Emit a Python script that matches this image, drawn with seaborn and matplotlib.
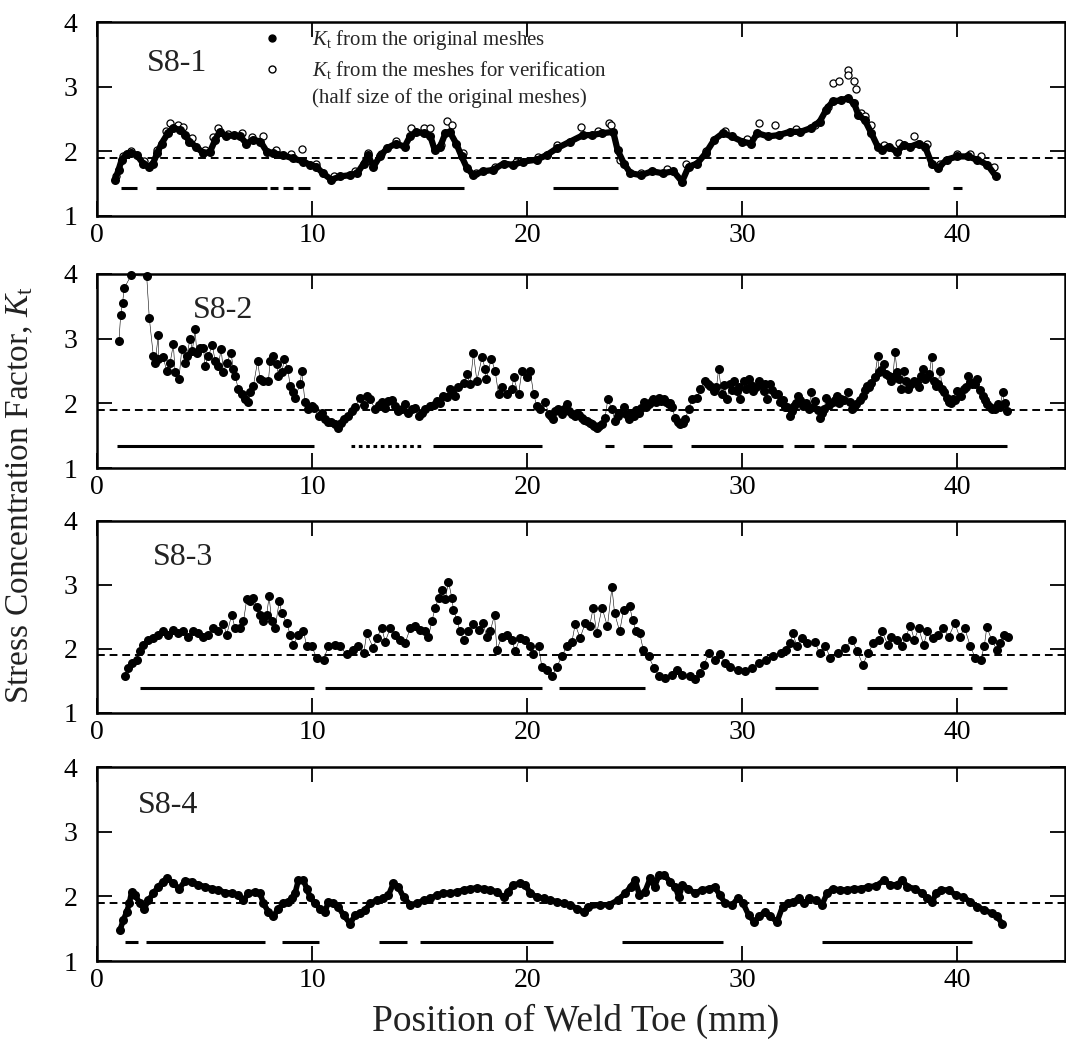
import numpy as np
import pandas as pd
import seaborn as sns
import matplotlib.pyplot as plt
from matplotlib.lines import Line2D

# S8-1, Kt from the original meshes (position in mm, Kt)
x_s81 = [0.84, 1.0, 1.15, 1.38, 1.6, 1.85, 2.15, 2.4, 2.6, 2.8,
         3.0, 3.3, 3.55, 3.85, 4.1, 4.3, 4.6, 4.95, 5.25, 5.5,
         5.7, 6.0, 6.35, 6.65, 6.95, 7.25, 7.6, 7.9, 8.2, 8.65,
         9.1, 9.6, 9.9, 10.2, 10.5, 10.9, 11.3, 11.75, 12.1, 12.4,
         12.6, 12.85, 13.15, 13.5, 13.9, 14.3, 14.55, 14.85, 15.2, 15.5,
         15.7, 15.95, 16.2, 16.4, 16.7, 16.95, 17.2, 17.5, 17.95, 18.4,
         18.9, 19.35, 19.8, 20.45, 20.9, 21.4, 22.0, 22.6,
         23.0, 23.5, 24.0, 24.2, 24.5, 24.8, 25.3, 25.8, 26.3, 26.8,
         27.2, 27.5, 27.9, 28.3, 28.7, 29.1, 29.5, 30.0, 30.4, 30.7,
         31.2, 31.7, 32.2, 32.7, 33.2, 33.6, 33.9, 34.2, 34.6, 34.9,
         35.2, 35.4, 35.7, 36.0, 36.3, 36.5, 36.8, 37.2, 37.5, 37.8,
         38.2, 38.5, 38.8, 39.1, 39.5, 40.0, 40.5, 40.9, 41.4, 41.8]
kt_s81 = [1.56, 1.71, 1.87, 1.96, 1.98, 1.94, 1.81, 1.76, 1.81, 1.97,
          2.12, 2.28, 2.36, 2.33, 2.25, 2.15, 2.07, 1.97, 1.99, 2.18,
          2.30, 2.23, 2.25, 2.23, 2.12, 2.18, 2.15, 1.99, 1.97, 1.94,
          1.89, 1.84, 1.79, 1.76, 1.66, 1.56, 1.61, 1.63, 1.66, 1.81,
          1.94, 1.76, 1.92, 2.05, 2.12, 2.07, 2.23, 2.30, 2.28, 2.23,
          2.02, 2.07, 2.28, 2.30, 2.12, 1.92, 1.74, 1.63, 1.69, 1.71,
          1.81, 1.79, 1.84, 1.87, 1.94, 2.05, 2.15, 2.25,
          2.25, 2.28, 2.30, 2.02, 1.81, 1.66, 1.63, 1.69, 1.66, 1.69,
          1.53, 1.76, 1.81, 1.97, 2.18, 2.28, 2.23, 2.15, 2.12, 2.28,
          2.23, 2.25, 2.30, 2.30, 2.36, 2.46, 2.64, 2.77, 2.79, 2.82,
          2.74, 2.56, 2.48, 2.28, 2.07, 2.02, 2.07, 1.99, 2.10, 2.07,
          2.12, 2.07, 1.81, 1.74, 1.87, 1.92, 1.92, 1.87, 1.79, 1.61]

# S8-1, Kt from the verification meshes (half size)
x_s81_half = [0.9, 1.2, 1.6, 2.2, 2.8, 3.2, 3.4, 3.78, 4.0, 4.4,
              5.0, 5.4, 5.64, 6.1, 6.73, 7.2, 7.74, 8.3, 9.0, 9.52,
              10.2, 11.0, 12.0, 12.6, 13.2, 13.9, 14.6, 15.2, 15.5, 16.0,
              16.26, 16.5, 17.0, 17.6, 18.5, 19.5, 20.5, 21.4, 22.5, 23.3,
              23.8, 23.9, 24.3, 25.3, 26.5, 27.4, 28.3, 29.2, 30.2, 30.8,
              31.5, 32.5, 33.4, 34.0, 34.2, 34.5, 34.9, 34.9, 35.2, 35.3,
              35.5, 35.7, 36.0, 36.6, 37.3, 38.0, 38.6, 39.2, 40.0, 40.6,
              41.1, 41.7]
kt_s81_half = [1.62, 1.92, 2.01, 1.85, 2.02, 2.32, 2.43, 2.41, 2.38, 2.20,
               2.02, 2.22, 2.36, 2.27, 2.28, 2.22, 2.23, 2.02, 1.95, 2.04,
               1.80, 1.62, 1.70, 1.98, 1.96, 2.16, 2.36, 2.36, 2.36, 2.10,
               2.47, 2.41, 1.97, 1.67, 1.75, 1.84, 1.91, 2.09, 2.38, 2.32,
               2.43, 2.41, 1.86, 1.67, 1.72, 1.80, 2.01, 2.32, 2.19, 2.44,
               2.41, 2.34, 2.40, 2.69, 3.06, 3.08, 3.25, 3.18, 3.08, 2.97,
               2.59, 2.54, 2.41, 2.10, 2.13, 2.23, 2.11, 1.80, 1.96, 1.96,
               1.92, 1.76]

# S8-2
x_s82 = [1.02, 1.10, 1.19, 1.26, 1.58, 2.31, 2.43, 2.62, 2.70, 2.85,
         2.85, 3.08, 3.24, 3.40, 3.55, 3.63, 3.81, 3.94, 4.09, 4.17,
         4.33, 4.43, 4.56, 4.64, 4.79, 4.95, 5.02, 5.18, 5.36, 5.49,
         5.64, 5.77, 5.88, 6.03, 6.23, 6.34, 6.42, 6.57, 6.73, 6.88,
         7.04, 7.12, 7.27, 7.47, 7.58, 7.74, 7.97, 8.05, 8.20, 8.36,
         8.43, 8.59, 8.71, 8.87, 8.98, 9.13, 9.21, 9.44, 9.52, 9.67,
         9.83, 9.98, 10.1, 10.3, 10.45, 10.6, 10.75, 10.9, 11.05, 11.2,
         11.35, 11.5, 11.65, 11.85, 12.0, 12.23, 12.4, 12.55, 12.7, 12.93,
         13.1, 13.24, 13.4, 13.55, 13.7, 13.85, 14.0, 14.17,
         14.33, 14.48, 14.64, 14.8, 14.95, 15.1, 15.26, 15.5, 15.65, 15.8,
         15.95, 16.1, 16.25, 16.4, 16.5, 16.65, 16.8, 17.04, 17.2, 17.35,
         17.5, 17.66, 17.9, 18.05, 18.1, 18.33, 18.51, 18.67, 18.82, 19.05,
         19.29, 19.37, 19.6, 19.75, 19.98, 20.14, 20.3, 20.45, 20.6, 20.84,
         21.0, 21.1, 21.22, 21.3, 21.45, 21.6, 21.7, 21.85, 21.95, 22.08,
         22.2, 22.31, 22.42, 22.55, 22.66, 22.78, 22.9, 23.0, 23.1, 23.24,
         23.35, 23.47, 23.62, 23.75, 23.93, 24.09, 24.2, 24.25, 24.48, 24.6,
         24.71, 24.85, 24.95, 25.05, 25.18, 25.3, 25.41, 25.52, 25.64, 25.75,
         25.87, 26.0, 26.11, 26.22, 26.34, 26.45, 26.57, 26.65, 26.73, 26.88,
         27.0, 27.12, 27.25, 27.35, 27.5, 27.66, 27.9, 28.05, 28.28, 28.4,
         28.51, 28.67, 28.9, 29.05, 29.29, 29.44, 29.6, 29.75, 29.9, 30.06,
         30.29, 30.52, 30.76, 30.99, 31.15, 31.3, 31.5, 31.77, 32.0, 32.2,
         32.4, 32.6, 32.8, 33.1, 33.2, 33.4, 33.6, 33.8, 33.9, 34.2,
         34.4, 34.6, 34.9, 35.1, 35.3, 35.6, 35.8, 36.0, 36.3, 36.35,
         36.6, 36.7, 36.9, 37.1, 37.2, 37.4, 37.5, 37.7, 38.0, 38.2,
         38.4, 38.6, 38.8, 39.0, 39.2, 39.4, 39.6, 39.8, 40.0, 40.3,
         40.5, 40.7, 40.9, 41.2, 41.4, 41.6, 41.9, 42.1, 42.3,
         28.8, 29.15, 29.5, 29.85, 30.15, 30.4, 30.65, 30.85, 31.05, 31.4,
         31.65, 31.9, 32.1, 32.3, 32.5, 32.7, 32.95, 33.3, 33.5, 33.7,
         34.05, 34.3, 34.5, 34.75, 35.0, 35.2, 35.45, 35.7, 35.9, 36.15,
         36.45, 36.8, 37.0, 37.3, 37.6, 37.85, 38.1, 38.3, 38.5, 38.7,
         38.9, 39.1, 39.3, 39.5, 39.7, 39.9, 40.15, 40.4, 40.6, 40.8,
         41.05, 41.3, 41.5, 41.75, 42.0, 42.2]
kt_s82 = [2.96, 3.36, 3.55, 3.77, 3.97, 3.96, 3.32, 2.73, 2.63, 3.05,
          2.68, 2.71, 2.50, 2.63, 2.91, 2.48, 2.37, 2.84, 2.63, 2.73,
          3.00, 2.81, 3.14, 2.78, 2.86, 2.86, 2.58, 2.73, 2.90, 2.66,
          2.58, 2.84, 2.48, 2.63, 2.78, 2.53, 2.43, 2.22, 2.14, 2.07,
          2.02, 2.17, 2.27, 2.66, 2.37, 2.35, 2.35, 2.66, 2.73, 2.61,
          2.43, 2.48, 2.68, 2.53, 2.27, 2.17, 2.09, 2.30, 2.50, 2.02,
          1.91, 1.96, 1.93, 1.81, 1.86, 1.76, 1.72, 1.71, 1.68, 1.63,
          1.70, 1.76, 1.80, 1.89, 1.95, 2.09, 1.98, 2.12, 2.07, 1.91,
          1.98, 2.02, 1.93, 2.04, 2.06, 1.96, 1.89, 1.91,
          1.99, 1.86, 1.91, 1.93, 1.81, 1.86, 1.91, 1.96, 1.98, 2.04,
          2.01, 2.12, 2.10, 2.22, 2.17, 2.12, 2.25, 2.32, 2.45, 2.30,
          2.77, 2.35, 2.71, 2.53, 2.37, 2.69, 2.50, 2.14, 2.25, 2.14,
          2.22, 2.40, 2.14, 2.50, 2.40, 2.50, 2.14, 1.96, 1.91, 2.02,
          1.84, 1.80, 1.76, 1.88, 1.91, 1.84, 1.92, 1.99, 1.88, 1.84,
          1.80, 1.86, 1.82, 1.78, 1.75, 1.73, 1.70, 1.68, 1.66, 1.63,
          1.65, 1.68, 1.78, 2.07, 1.91, 1.73, 1.80, 1.86, 1.94, 1.84,
          1.76, 1.86, 1.81, 1.90, 1.86, 1.93, 2.02, 1.95, 1.99, 2.02,
          2.07, 2.03, 2.09, 2.04, 2.07, 2.02, 1.99, 2.00, 1.94, 1.78,
          1.72, 1.68, 1.70, 1.76, 1.91, 2.07, 2.09, 2.22, 2.35, 2.30,
          2.27, 2.19, 2.53, 2.14, 2.07, 2.30, 2.35, 2.19, 2.07, 2.35,
          2.37, 2.19, 2.35, 2.19, 2.07, 2.30, 2.14, 2.02, 1.94, 1.81,
          1.96, 2.12, 1.96, 1.91, 2.18, 2.04, 1.78, 1.91, 2.09, 2.02,
          2.12, 2.07, 2.17, 1.91, 1.99, 2.12, 2.27, 2.32, 2.73, 2.48,
          2.61, 2.45, 2.35, 2.79, 2.48, 2.22, 2.50, 2.22, 2.35, 2.25,
          2.53, 2.40, 2.72, 2.27, 2.50, 2.17, 2.02, 2.07, 2.19, 2.22,
          2.43, 2.30, 2.37, 2.12, 1.99, 1.91, 1.99, 2.17, 1.89,
          2.25, 2.28, 2.20, 2.25, 2.22, 2.28, 2.25, 2.28, 2.30, 2.20,
          2.15, 2.05, 1.95, 1.88, 2.00, 2.05, 2.00, 1.95, 1.90, 1.85,
          1.97, 2.05, 2.00, 2.05, 2.02, 1.95, 2.05, 2.20, 2.25, 2.40,
          2.52, 2.42, 2.40, 2.38, 2.35, 2.30, 2.33, 2.42, 2.38, 2.45,
          2.35, 2.30, 2.22, 2.08, 2.00, 2.05, 2.12, 2.25, 2.33, 2.30,
          2.20, 2.05, 1.95, 1.92, 1.95, 2.00]

# S8-3
x_s83 = [1.30, 1.46, 1.61, 1.85, 2.0, 2.16, 2.39, 2.62, 2.85, 3.09,
         3.32, 3.55, 3.78, 4.02, 4.25, 4.48, 4.71, 4.95, 5.18, 5.41,
         5.64, 5.88, 6.03, 6.26, 6.42, 6.65, 6.81, 6.96, 7.12, 7.27,
         7.43, 7.58, 7.74, 7.89, 8.0, 8.12, 8.28, 8.47, 8.59, 8.82,
         8.98, 9.13, 9.36, 9.6, 9.75, 9.98, 10.22, 10.53, 10.76, 11.07,
         11.3, 11.6, 11.9, 12.15, 12.4, 12.54, 12.85, 13.0, 13.24, 13.4,
         13.63, 13.86, 14.09, 14.33, 14.56, 14.79, 15.02, 15.26, 15.41, 15.57,
         15.72, 15.88, 16.03, 16.19, 16.34, 16.5, 16.57, 16.73, 16.88, 17.04,
         17.27, 17.5, 17.74, 17.94, 18.12, 18.28, 18.48, 18.59, 18.82, 19.05,
         19.29, 19.44, 19.67, 19.91, 20.14, 20.29, 20.53, 20.68, 20.91, 21.15,
         21.38, 21.61, 21.84, 22.08, 22.23, 22.46, 22.7,
         22.9, 23.07, 23.23, 23.48, 23.73, 23.94, 24.06, 24.3, 24.48, 24.76,
         24.9, 25.06, 25.23, 25.4, 25.64, 25.9, 26.14, 26.4, 26.72, 26.97,
         27.22, 27.55, 27.8, 28.05, 28.21, 28.46, 28.71, 28.96, 29.2, 29.45,
         29.79, 30.12, 30.45, 30.78, 31.12, 31.45, 31.78, 32.03, 32.2, 32.36,
         32.53, 32.78, 33.03, 33.36, 33.6, 33.86, 34.1, 34.44, 34.77, 35.1,
         35.35, 35.6, 35.85, 36.1, 36.35, 36.5, 36.77, 36.93, 37.18, 37.43,
         37.6, 37.81, 38.0, 38.2, 38.43, 38.6, 38.85, 39.1, 39.35, 39.6,
         39.88, 40.1, 40.34, 40.6, 40.84, 41.09, 41.25, 41.37, 41.59, 41.84,
         42.0, 42.17, 42.33]
kt_s83 = [1.57, 1.70, 1.78, 1.83, 1.96, 2.06, 2.14, 2.17, 2.22, 2.27,
          2.22, 2.30, 2.24, 2.27, 2.19, 2.27, 2.24, 2.19, 2.22, 2.32,
          2.27, 2.38, 2.22, 2.53, 2.32, 2.32, 2.43, 2.77, 2.74, 2.79,
          2.66, 2.53, 2.43, 2.53, 2.82, 2.43, 2.32, 2.74, 2.56, 2.40,
          2.22, 2.06, 2.22, 2.27, 2.04, 2.04, 1.85, 1.83, 2.04, 2.06,
          2.04, 1.91, 1.98, 2.04, 1.93, 2.24, 2.01, 2.17, 2.32, 2.11,
          2.32, 2.22, 2.14, 2.09, 2.32, 2.35, 2.30, 2.27, 2.19, 2.43,
          2.64, 2.79, 2.92, 2.77, 3.05, 2.79, 2.61, 2.45, 2.27, 2.14,
          2.27, 2.38, 2.30, 2.40, 2.19, 2.27, 2.53, 1.98, 2.19, 2.22,
          2.14, 1.96, 2.17, 2.14, 2.04, 1.91, 2.04, 1.72, 1.67, 1.57,
          1.72, 1.88, 2.04, 2.11, 2.38, 2.17, 2.40,
          2.35, 2.64, 2.24, 2.64, 2.35, 2.96, 2.56, 2.27, 2.61, 2.67,
          2.45, 2.27, 2.24, 1.98, 1.88, 1.70, 1.57, 1.54, 1.59, 1.67,
          1.59, 1.57, 1.52, 1.62, 1.75, 1.93, 1.83, 1.91, 1.78, 1.72,
          1.67, 1.65, 1.70, 1.78, 1.83, 1.88, 1.93, 1.98, 2.09, 2.24,
          2.04, 2.17, 2.09, 2.11, 1.93, 2.04, 1.85, 1.93, 2.01, 2.14,
          1.96, 1.75, 1.93, 2.09, 2.14, 2.27, 2.06, 2.19, 2.14, 2.04,
          2.19, 2.36, 2.14, 2.32, 2.06, 2.27, 2.17, 2.22, 2.32, 2.19,
          2.40, 2.19, 2.32, 2.04, 1.85, 1.83, 2.04, 2.34, 2.14, 1.98,
          2.09, 2.22, 2.19]

# S8-4
x_s84 = [1.07, 1.22, 1.38, 1.5, 1.61, 1.77, 2.0, 2.19, 2.39, 2.62,
         2.85, 3.09, 3.27, 3.55, 3.83, 4.09, 4.4, 4.71, 5.02, 5.33,
         5.64, 5.95, 6.26, 6.57, 6.81, 7.04, 7.35, 7.58, 7.74, 7.97,
         8.2, 8.43, 8.67, 8.9, 9.05, 9.21, 9.36, 9.6, 9.75, 9.91,
         10.14, 10.37, 10.6, 10.76, 10.99, 11.22, 11.46, 11.77, 12.0, 12.23,
         12.47, 12.7, 13.0, 13.3, 13.55, 13.78, 14.0, 14.25, 14.56, 14.87,
         15.18, 15.5, 15.8, 16.1, 16.42, 16.73, 17.04, 17.35, 17.66, 17.97,
         18.28, 18.59, 18.9, 19.13, 19.36, 19.67, 19.91, 20.14, 20.45, 20.76,
         21.07, 21.38, 21.69, 22.0, 22.31, 22.62, 22.85,
         23.4, 23.8, 24.2, 24.56, 24.81, 25.02, 25.22, 25.47, 25.72, 25.92,
         26.13, 26.38, 26.63, 26.88, 27.05, 27.22, 27.47, 27.8, 28.13, 28.46,
         28.71, 28.96, 29.21, 29.54, 29.79, 30.04, 30.3, 30.54, 30.79, 31.04,
         31.29, 31.62, 31.87, 32.12, 32.37, 32.62, 32.87, 33.12, 33.45, 33.7,
         33.95, 34.2, 34.53, 34.87, 35.2, 35.53, 35.86, 36.2, 36.6, 36.85,
         37.19, 37.43, 37.68, 38.01, 38.35, 38.6, 38.84, 39.01, 39.26, 39.59,
         39.93, 40.26, 40.59, 40.92, 41.25, 41.59, 41.84, 42.08]
kt_s84 = [1.48, 1.63, 1.76, 1.89, 2.07, 2.02, 1.89, 1.81, 1.94, 2.05,
          2.15, 2.23, 2.28, 2.20, 2.12, 2.24, 2.23, 2.18, 2.15, 2.12,
          2.10, 2.06, 2.05, 2.02, 1.94, 2.05, 2.07, 2.05, 1.89, 1.76,
          1.69, 1.81, 1.89, 1.92, 1.97, 2.05, 2.25, 2.25, 2.12, 1.99,
          1.89, 1.81, 1.76, 1.92, 1.89, 1.84, 1.71, 1.58, 1.71, 1.74,
          1.79, 1.89, 1.94, 1.97, 2.02, 2.20, 2.15, 1.99, 1.87, 1.89,
          1.94, 1.97, 2.02, 2.05, 2.05, 2.07, 2.10, 2.12, 2.13, 2.12,
          2.10, 2.07, 1.99, 2.07, 2.18, 2.20, 2.18, 2.05, 1.99, 1.97,
          1.94, 1.92, 1.89, 1.87, 1.81, 1.76, 1.84,
          1.87, 1.87, 1.94, 2.05, 2.15, 2.25, 2.02, 2.07, 2.28, 2.15,
          2.33, 2.33, 2.23, 2.15, 1.99, 2.18, 2.12, 2.05, 2.10, 2.12,
          2.15, 2.02, 1.89, 1.87, 1.97, 1.89, 1.71, 1.61, 1.69, 1.76,
          1.69, 1.61, 1.84, 1.89, 1.92, 1.97, 1.89, 1.97, 1.94, 1.87,
          2.05, 2.12, 2.10, 2.10, 2.12, 2.12, 2.15, 2.16, 2.25, 2.18,
          2.18, 2.25, 2.15, 2.12, 2.05, 1.97, 1.92, 2.05, 2.10, 2.10,
          2.02, 1.99, 1.92, 1.84, 1.79, 1.74, 1.69, 1.58]

# horizontal bars drawn under each curve, (start, end) in mm
bars_s81 = [(1.1, 1.85), (2.74, 7.9), (8.05, 8.4), (8.65, 9.1), (9.35, 9.9),
            (13.5, 17.05), (21.2, 24.2), (28.3, 38.7), (39.8, 40.2)]
bars_s82 = [(0.92, 10.1), (15.6, 20.7), (23.6, 24.05), (25.4, 26.75),
            (27.6, 31.9), (32.4, 33.35), (33.8, 34.8), (35.1, 42.3)]
bars_s82_dotted = [(11.8, 15.1)]
bars_s83 = [(2.0, 10.1), (10.6, 20.7), (21.5, 25.5), (31.5, 33.5),
            (35.8, 40.7), (41.2, 42.3)]
bars_s84 = [(1.3, 1.9), (2.3, 7.8), (8.6, 10.3), (13.1, 14.4), (15.0, 21.2),
            (24.4, 29.1), (33.7, 40.7)]
bar_levels = [1.43, 1.34, 1.39, 1.30]
kt_ref = 1.9

names = ["S8-1", "S8-2", "S8-3", "S8-4"]
xs = [x_s81, x_s82, x_s83, x_s84]
kts = [kt_s81, kt_s82, kt_s83, kt_s84]
bars = [bars_s81, bars_s82, bars_s83, bars_s84]

sns.set_theme(style="ticks")
plt.rcParams["font.family"] = ["Liberation Serif", "DejaVu Serif"]
plt.rcParams["mathtext.fontset"] = "custom"
plt.rcParams["mathtext.rm"] = "Liberation Serif"
plt.rcParams["mathtext.it"] = "Liberation Serif:italic"
plt.rcParams["axes.linewidth"] = 1.8

fig = plt.figure(figsize=(10.66, 10.48), dpi=100)

boxes = [[0.091, 0.794, 0.908, 0.185],
         [0.091, 0.553, 0.908, 0.186],
         [0.091, 0.320, 0.908, 0.183],
         [0.091, 0.083, 0.908, 0.185]]
label_pos = [(2.3, 3.36), (4.45, 3.43), (2.6, 3.42), (1.9, 3.40)]
line_w = [4.5, 0.4, 0.4, 4.0]

for i in range(4):
    ax = fig.add_axes(boxes[i])
    ax.axhline(kt_ref, color="black", lw=1.4, ls=(0, (4, 2.5)), zorder=1)
    for a, b in bars[i]:
        ax.hlines(bar_levels[i], a, b, color="black", lw=2.2, zorder=2)
    if i == 1:
        for a, b in bars_s82_dotted:
            ax.hlines(bar_levels[i], a, b, color="black", lw=2.2,
                      ls=(0, (1.2, 1.2)), zorder=2)
    if i == 0:
        sns.scatterplot(x=x_s81_half, y=kt_s81_half, ax=ax, marker="o", s=26,
                        facecolor="white", edgecolor="black", linewidth=0.9,
                        zorder=3, legend=False)

    df = pd.DataFrame({"x": xs[i], "kt": kts[i]}).sort_values("x")
    n_before = len(ax.lines)
    sns.lineplot(data=df, x="x", y="kt", ax=ax, color="black", lw=line_w[i],
                 marker="o", markersize=6.5, markeredgewidth=0,
                 estimator=None, sort=False, zorder=4)
    for ln in ax.lines[n_before:]:
        ln.set_clip_on(False)

    ax.set_xlim(0, 45)
    ax.set_ylim(1, 4)
    ax.set_xticks([0, 10, 20, 30, 40])
    ax.set_yticks([1, 2, 3, 4])
    ax.set_xlabel("")
    ax.set_ylabel("")
    ax.tick_params(direction="in", top=True, right=True, length=11, width=1.3,
                   labelsize=20, colors="black")
    ax.tick_params(axis="x", pad=5)
    ax.tick_params(axis="y", pad=14)
    for sp in ax.spines.values():
        sp.set_visible(True)
        sp.set_linewidth(1.8)
        sp.set_color("black")
    ax.text(label_pos[i][0], label_pos[i][1], names[i], fontsize=23,
            va="center", ha="left", color="#222222")

    if i == 0:
        handles = [Line2D([], [], marker="o", color="black", ls="none", markersize=5),
                   Line2D([], [], marker="o", mfc="white", mec="black", ls="none",
                          markersize=5, mew=1),
                   Line2D([], [], ls="none")]
        labels = [r"$K_{\mathrm{t}}$ from the original meshes",
                  r"$K_{\mathrm{t}}$ from the meshes for verification",
                  "(half size of the original meshes)"]
        ax.legend(handles, labels, loc="upper left", bbox_to_anchor=(0.17, 0.97),
                  frameon=False, fontsize=15, handlelength=1.0, handletextpad=1.4,
                  borderpad=0, borderaxespad=0, labelspacing=0.35)

fig.text(0.019, 0.528, r"Stress Concentration Factor, $K_{\mathrm{t}}$",
         rotation=90, va="center", ha="center", fontsize=24, color="#222222")
fig.text(0.54, 0.025, "Position of Weld Toe (mm)", va="center", ha="center",
         fontsize=27, color="#222222")

fig.savefig("out.png", dpi=100)
